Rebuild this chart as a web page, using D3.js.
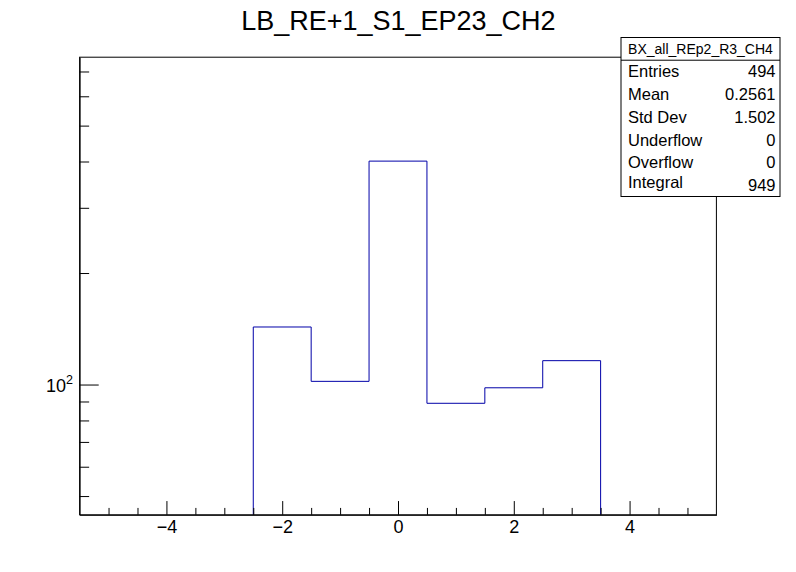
<!DOCTYPE html>
<html>
<head>
<meta charset="utf-8">
<script src="https://cdn.jsdelivr.net/npm/d3@7"></script>
<style>
  html, body { margin: 0; padding: 0; background: #fff; }
  svg { display: block; font-family: "Liberation Sans", Arial, Helvetica, sans-serif; }
</style>
</head>
<body>
<svg id="chart" width="796" height="572"></svg>
<script>
// ---- data ----
const title = "LB_RE+1_S1_EP23_CH2";
const binCenters = [-2, -1, 0, 1, 2, 3];
const counts = [143, 102, 401, 89, 98, 116];
const binWidth = 1;
const xDomain = [-5.5, 5.5];
const yDomain = [44.5, 765];
const xMajorTicks = [-4, -2, 0, 2, 4];
const xMinorTicks = [-5, -4.5, -3.5, -3, -2.5, -1.5, -1, -0.5, 0.5, 1, 1.5, 2.5, 3, 3.5, 4.5, 5];
const yMajorTicks = [100];
const yMinorTicks = [50, 60, 70, 80, 90, 200, 300, 400, 500, 600, 700];
const statsTitle = "BX_all_REp2_R3_CH4";
const statsLabels = ["Entries", "Mean", "Std Dev", "Underflow", "Overflow", "Integral"];
const statsValues = ["494", "0.2561", "1.502", "0", "0", "949"];

// ---- layout ----
const frame = { x0: 79.6, x1: 716.4, y0: 57.2, y1: 514.8 };
const svg = d3.select("#chart");
const FONT = "Liberation Sans, Arial, Helvetica, sans-serif";

const x = d3.scaleLinear().domain(xDomain).range([frame.x0, frame.x1]);
const y = d3.scaleLog().domain(yDomain).range([frame.y1, frame.y0]);

const lineColor = "#0000a8";

// Histogram outline (step)
const pts = [];
binCenters.forEach((c, i) => {
  const lo = c - binWidth / 2, hi = c + binWidth / 2;
  if (i === 0) pts.push([x(lo), frame.y1]);
  pts.push([x(lo), y(counts[i])]);
  pts.push([x(hi), y(counts[i])]);
  if (i === binCenters.length - 1) pts.push([x(hi), frame.y1]);
});
svg.append("path")
  .attr("d", d3.line()(pts))
  .attr("fill", "none")
  .attr("stroke", lineColor)
  .attr("stroke-width", 1);

// Frame
svg.append("rect")
  .attr("x", frame.x0).attr("y", frame.y0)
  .attr("width", frame.x1 - frame.x0).attr("height", frame.y1 - frame.y0)
  .attr("fill", "none").attr("stroke", "#000").attr("stroke-width", 1);

const xMajLen = 0.03 * (frame.y1 - frame.y0);
const yMajLen = 0.03 * (frame.x1 - frame.x0);

// X axis: major ticks with labels
svg.append("g")
  .attr("transform", `translate(0,${frame.y1})`)
  .call(d3.axisBottom(x).tickValues(xMajorTicks).tickSizeInner(-xMajLen).tickSizeOuter(0).tickPadding(5.5)
    .tickFormat(d3.format("d")))
  .call(g => g.attr("font-size", 18).attr("font-family", FONT))
  .call(g => g.select(".domain").attr("stroke", "#000"))
  .call(g => g.selectAll(".tick line").attr("stroke", "#000"))
  .call(g => g.selectAll(".tick text").attr("fill", "#000"));
// X minor ticks
svg.append("g")
  .attr("transform", `translate(0,${frame.y1})`)
  .call(d3.axisBottom(x).tickValues(xMinorTicks).tickSizeInner(-xMajLen / 2).tickSizeOuter(0).tickFormat(""))
  .call(g => g.select(".domain").remove())
  .call(g => g.selectAll(".tick line").attr("stroke", "#000"));

// Y axis major
svg.append("g")
  .attr("transform", `translate(${frame.x0},0)`)
  .call(d3.axisLeft(y).tickValues(yMajorTicks).tickSizeInner(-yMajLen).tickSizeOuter(0).tickPadding(6.6)
    .tickFormat(""))
  .call(g => g.attr("font-size", 18).attr("font-family", FONT))
  .call(g => g.select(".domain").attr("stroke", "#000"))
  .call(g => g.selectAll(".tick line").attr("stroke", "#000"))
  .call(g => g.selectAll(".tick text").each(function (d) {
    const t = d3.select(this).attr("fill", "#000").attr("dy", "0.4em");
    const e = Math.round(Math.log10(d));
    t.append("tspan").text("10");
    t.append("tspan").text(String(e)).attr("font-size", 12.5).attr("dy", "-0.62em");
  }));
// Y minor ticks
svg.append("g")
  .attr("transform", `translate(${frame.x0},0)`)
  .call(d3.axisLeft(y).tickValues(yMinorTicks).tickSizeInner(-yMajLen / 2).tickSizeOuter(0).tickFormat(""))
  .call(g => g.select(".domain").remove())
  .call(g => g.selectAll(".tick line").attr("stroke", "#000"));

// Title
svg.append("text")
  .attr("x", 398.4).attr("y", 30)
  .attr("text-anchor", "middle")
  .attr("font-size", 27)
  .attr("fill", "#000")
  .text(title);

// Stats box
const sb = { x0: 621, x1: 780, y0: 37.5, y1: 196.5 };
const rowH = (sb.y1 - sb.y0) / (statsLabels.length + 1);
const stats = svg.append("g");
stats.append("rect")
  .attr("x", sb.x0).attr("y", sb.y0)
  .attr("width", sb.x1 - sb.x0).attr("height", sb.y1 - sb.y0)
  .attr("fill", "#fff").attr("stroke", "#000").attr("stroke-width", 1);
stats.append("line")
  .attr("x1", sb.x0).attr("x2", sb.x1)
  .attr("y1", sb.y0 + rowH).attr("y2", sb.y0 + rowH)
  .attr("stroke", "#000");
stats.append("text")
  .attr("x", (sb.x0 + sb.x1) / 2).attr("y", sb.y0 + rowH / 2 + 5)
  .attr("text-anchor", "middle").attr("font-size", 14).attr("fill", "#000")
  .text(statsTitle);
statsLabels.forEach((lab, i) => {
  const cy = sb.y0 + rowH * (i + 1.5);
  const hasDesc = /[gjpqy]/.test(lab);
  stats.append("text")
    .attr("x", sb.x0 + 7).attr("y", cy + 5.8 - (hasDesc ? 2.5 : 0))
    .attr("font-size", 16.5).attr("fill", "#000")
    .text(lab);
  stats.append("text")
    .attr("x", sb.x1 - 4.5).attr("y", cy + 5.8)
    .attr("text-anchor", "end")
    .attr("font-size", 16.5).attr("fill", "#000")
    .text(statsValues[i]);
});
</script>
</body>
</html>
